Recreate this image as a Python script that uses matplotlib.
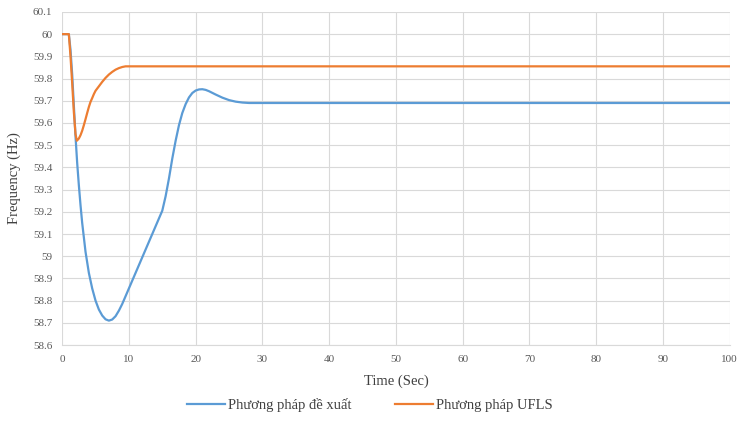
import matplotlib.pyplot as plt

plt.rcParams["font.family"] = ["Liberation Serif", "DejaVu Serif"]

# blue series - proposed method
t_proposed = [0, 1, 1.25, 1.5, 1.75, 2, 2.25, 2.5, 2.75, 3, 3.5, 4, 4.5, 5,
              5.5, 6, 6.5, 7, 7.5, 8, 8.5, 9, 9.5, 10, 10.5, 11, 11.5, 12,
              12.5, 13, 13.5, 14, 14.5, 15, 15.5, 16, 16.5, 17, 17.5, 18, 18.5,
              19, 19.5, 20, 20.5, 21, 21.5, 22, 23, 24, 25, 26, 27, 28, 30, 40,
              50, 60, 70, 80, 90, 100]
f_proposed = [60, 60, 59.93, 59.82, 59.68, 59.54, 59.42, 59.32, 59.23, 59.15,
              59.02, 58.925, 58.855, 58.80, 58.76, 58.733, 58.716, 58.71,
              58.715, 58.73, 58.755, 58.785, 58.82, 58.855, 58.89, 58.925,
              58.96, 58.995, 59.03, 59.065, 59.10, 59.135, 59.17, 59.205,
              59.27, 59.35, 59.44, 59.52, 59.59, 59.645, 59.685, 59.715,
              59.735, 59.746, 59.751, 59.752, 59.749, 59.743, 59.728, 59.714,
              59.703, 59.696, 59.692, 59.69, 59.69, 59.69, 59.69, 59.69, 59.69,
              59.69, 59.69, 59.69]

# orange series - UFLS
t_ufls = [0, 1, 1.25, 1.5, 1.75, 2, 2.2, 2.5, 2.75, 3, 3.25, 3.5, 3.75, 4,
          4.25, 4.5, 4.75, 5, 5.5, 6, 6.5, 7, 7.5, 8, 8.5, 9, 9.5, 10, 20, 30,
          40, 50, 60, 70, 80, 90, 100]
f_ufls = [60, 60, 59.9, 59.78, 59.65, 59.55, 59.52, 59.53, 59.545, 59.565,
          59.59, 59.617, 59.645, 59.672, 59.695, 59.712, 59.73, 59.745,
          59.765, 59.785, 59.803, 59.818, 59.83, 59.84, 59.847, 59.852, 59.855,
          59.855, 59.855, 59.855, 59.855, 59.855, 59.855, 59.855, 59.855,
          59.855, 59.855]

x_ticks = [0, 10, 20, 30, 40, 50, 60, 70, 80, 90, 100]
y_ticks = [58.6, 58.7, 58.8, 58.9, 59.0, 59.1, 59.2, 59.3, 59.4, 59.5, 59.6,
           59.7, 59.8, 59.9, 60.0, 60.1]
y_labels = ["58.6", "58.7", "58.8", "58.9", "59", "59.1", "59.2", "59.3",
            "59.4", "59.5", "59.6", "59.7", "59.8", "59.9", "60", "60.1"]

fig = plt.figure(figsize=(7.4, 4.26), dpi=100)
ax = fig.add_axes([0.084, 0.19, 0.902, 0.782])

ax.plot(t_proposed, f_proposed, color="#5B9BD5", lw=1.6, label="Phương pháp đề xuất")
ax.plot(t_ufls, f_ufls, color="#ED7D31", lw=1.6, label="Phương pháp UFLS")

ax.set_xlim(0, 100)
ax.set_ylim(58.6, 60.1)
ax.set_xticks(x_ticks)
ax.set_yticks(y_ticks)
ax.set_yticklabels(y_labels)
ax.grid(True, color="#d9d9d9", lw=0.8)
ax.set_axisbelow(True)
for s in ax.spines.values():
    s.set_visible(False)
ax.spines["bottom"].set_visible(True)
ax.spines["bottom"].set_color("#d9d9d9")
ax.tick_params(length=0, labelsize=8, colors="#595959", pad=7)

ax.set_xlabel("Time (Sec)", fontsize=10.5, color="#404040", labelpad=8)
ax.set_ylabel("Frequency (Hz)", fontsize=10.5, color="#404040")
ax.yaxis.set_label_coords(-0.061, 0.5)

fig.legend(loc="center", bbox_to_anchor=(0.5, 0.049), ncol=2,
           frameon=False, fontsize=10.5, handlelength=2.6, handletextpad=0.2,
           columnspacing=3.0, labelcolor="#404040")

plt.savefig("out.png", dpi=100)
plt.close()
